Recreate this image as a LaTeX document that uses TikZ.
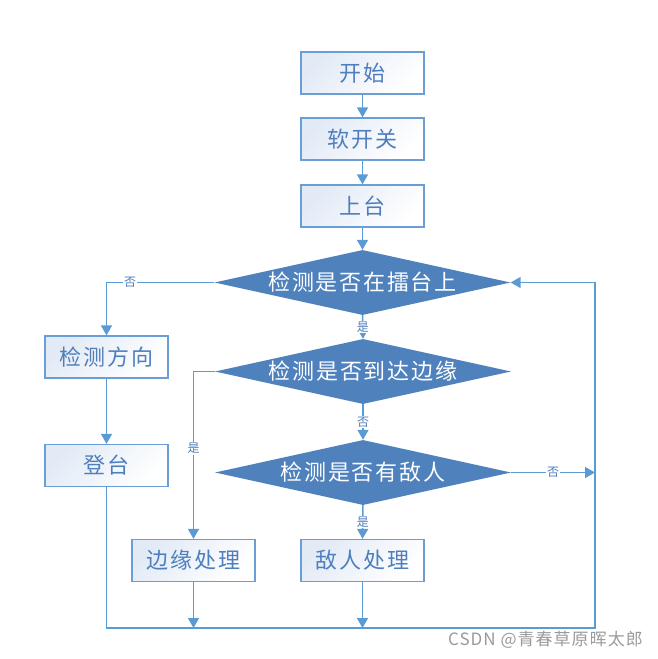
\documentclass[tikz,border=0pt]{standalone}
\usepackage{fontspec}
\newfontfamily\cjk[LetterSpace=8]{Noto Sans CJK SC}
\newfontfamily\cjkl{Noto Sans CJK SC}
\newfontfamily\wmfont[LetterSpace=6]{Noto Sans CJK SC}
\usetikzlibrary{arrows.meta,shapes.geometric}
\definecolor{lineblue}{HTML}{5B9BD5}
\definecolor{boxborder}{HTML}{6A9FD6}
\definecolor{txtblue}{HTML}{4F7EBD}
\definecolor{diafill}{HTML}{4F81BD}
\definecolor{boxlight}{HTML}{E2EAF6}
\definecolor{wmgray}{HTML}{9A9A9A}
\begin{document}
\begin{tikzpicture}[x=1pt,y=-1pt,
  box/.style={draw=boxborder, line width=1.3pt, minimum width=123pt, minimum height=42pt,
    inner sep=0pt, top color=boxlight, bottom color=white, shading angle=45,
    text=txtblue, font=\cjk\fontsize{22}{22}\selectfont},
  dia/.style={diamond, fill=diafill, draw=none, minimum width=296pt, minimum height=65pt,
    inner sep=0pt, aspect=4.5},
  diatext/.style={text=white, font=\cjk\fontsize{22}{22}\selectfont, inner sep=0pt},
  lbl/.style={fill=white, text=txtblue, font=\cjkl\fontsize{12}{12}\selectfont, inner sep=1pt},
  conn/.style={draw=lineblue, line width=1.5pt},
  arr/.style={conn, -{Triangle[length=10pt,width=11pt]}}]
\useasboundingbox (0,0) rectangle (657,659);

\node[box] (start) at (362.5,73) {开始};
\node[box] (soft) at (362.5,139) {软开关};
\node[box] (up) at (362.5,206) {上台};
\node[dia, label={[diatext]center:检测是否在擂台上}] (d1) at (362.5,282.5) {};
\node[dia, label={[diatext]center:检测是否到达边缘}] (d2) at (363,371.5) {};
\node[dia, label={[diatext]center:检测是否有敌人}] (d3) at (363,472.5) {};
\node[box] (dir) at (106.5,357) {检测方向};
\node[box] (climb) at (106.5,465.5) {登台};
\node[box] (edge) at (193.5,560.5) {边缘处理};
\node[box] (enemy) at (362.5,560.5) {敌人处理};

\coordinate (bl) at (106.5,628);
\coordinate (br) at (595,628);
\coordinate (tr) at (595,282.5);
\coordinate (r3) at (595,472.5);

\draw[arr] (start) -- (soft);
\draw[arr] (soft) -- (up);
\draw[arr] (up) -- (d1.north);
\draw[arr] (d1.west) -| node[lbl, pos=0.39]{否} (dir.north);
\draw[arr] (d1.south) -- node[lbl]{是} (d2.north);
\draw[arr] (d2.west) -| node[lbl, pos=0.73]{是} (edge.north);
\draw[arr] (d2.south) -- node[lbl]{否} (d3.north);
\draw[arr] (d3.south) -- node[lbl]{是} (enemy.north);
\draw[arr] (d3.east) -- node[lbl]{否} (r3);
\draw[arr] (dir) -- (climb);
\draw[arr] (climb.south) |- (br) -- (tr) -- (d1.east);
\draw[arr] (edge.south) -- (edge.south |- bl);
\draw[arr] (enemy.south) -- (enemy.south |- bl);

\node[anchor=east, text=wmgray, font=\wmfont\fontsize{17}{17}\selectfont, inner sep=0pt] (wm) at (643,640) {CSDN @青春草原晖太郎};
\end{tikzpicture}
\end{document}
